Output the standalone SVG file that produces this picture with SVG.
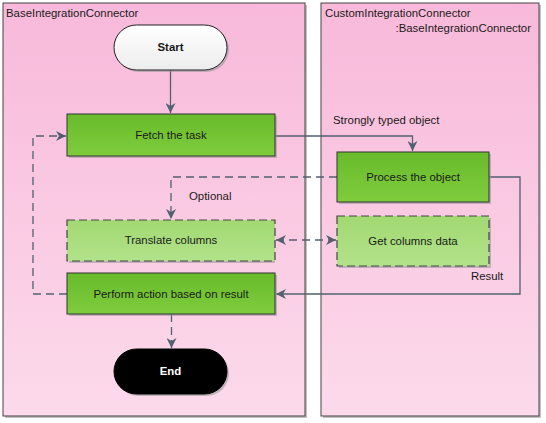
<svg xmlns="http://www.w3.org/2000/svg" width="546" height="423" viewBox="0 0 546 423">
<defs>
<linearGradient id="lane" x1="0" y1="0" x2="0" y2="1"><stop offset="0" stop-color="#f8b9da"/><stop offset="1" stop-color="#fcdaeb"/></linearGradient>
<linearGradient id="green" x1="0" y1="0" x2="0" y2="1"><stop offset="0" stop-color="#68bb2b"/><stop offset="1" stop-color="#7fcc3d"/></linearGradient>
<linearGradient id="lgreen" x1="0" y1="0" x2="0" y2="1"><stop offset="0" stop-color="#a2d972"/><stop offset="1" stop-color="#b2e28a"/></linearGradient>
<linearGradient id="white" x1="0" y1="0" x2="0" y2="1"><stop offset="0" stop-color="#ffffff"/><stop offset="1" stop-color="#ececec"/></linearGradient>
<marker id="arr" viewBox="0 0 10 10" refX="10" refY="5" markerWidth="10" markerHeight="10" markerUnits="userSpaceOnUse" orient="auto-start-reverse"><path d="M0,0 L10,5 L0,10 L3,5 Z" fill="#52606f"/></marker>
</defs>
<style>
.lane{fill:url(#lane);stroke:#444;stroke-width:1}
.shadow{fill:#9a9a9a;opacity:0.6}
.box{fill:url(#green);stroke:#333;stroke-width:1}
.dbox{fill:url(#lgreen);stroke:#444;stroke-width:1.2;stroke-dasharray:8,4}
.t{font-family:"Liberation Sans",Arial,sans-serif;font-size:11.4px;fill:#1a1a1a}
.c{text-anchor:middle}
.b{font-weight:bold}
.line{fill:none;stroke:#52606f;stroke-width:1.3}
.dash{stroke-dasharray:8,5}
</style>
<g id="lane-base">
<rect class="shadow" x="5" y="5" width="302" height="413"/>
<rect class="lane" x="3" y="3" width="302" height="413"/>
<text class="t" x="6" y="17">BaseIntegrationConnector</text>
</g>
<g id="lane-custom">
<rect class="shadow" x="323" y="5" width="218" height="413"/>
<rect class="lane" x="321" y="3" width="218" height="413"/>
<text class="t" x="325" y="17">CustomIntegrationConnector</text>
<text class="t" x="531" y="32" text-anchor="end">:BaseIntegrationConnector</text>
</g>
<g id="connectors">
<path class="line" d="M170.5,70 V113" marker-end="url(#arr)"/>
<path class="line" d="M275,136 H412.5 V151" marker-end="url(#arr)"/>
<path class="line dash" d="M337,177 H171 V219" marker-end="url(#arr)"/>
<path class="line dash" d="M276,240 H336" marker-start="url(#arr)" marker-end="url(#arr)"/>
<path class="line" d="M489,177 H520 V294 H276" marker-end="url(#arr)"/>
<path class="line dash" d="M67,294 H33 V136 H66" marker-end="url(#arr)"/>
<path class="line dash" d="M171.5,314 V348" marker-end="url(#arr)"/>
<text class="t" x="333" y="124">Strongly typed object</text>
<text class="t" x="189" y="200">Optional</text>
<text class="t" x="471" y="280">Result</text>
</g>
<g id="start">
<rect class="shadow" x="116" y="27" width="113" height="45" rx="22.5"/>
<rect x="114" y="25" width="113" height="45" rx="22.5" fill="url(#white)" stroke="#222" stroke-width="1"/>
<text class="t c b" x="170.5" y="51">Start</text>
</g>
<g id="fetch">
<rect class="shadow" x="69" y="116" width="208" height="42"/>
<rect class="box" x="67" y="114" width="208" height="42"/>
<text class="t c" x="171" y="139">Fetch the task</text>
</g>
<g id="process">
<rect class="shadow" x="339" y="154" width="152" height="50"/>
<rect class="box" x="337" y="152" width="152" height="50"/>
<text class="t c" x="413" y="181">Process the object</text>
</g>
<g id="translate">
<rect class="shadow" x="69" y="222" width="206" height="41"/>
<rect class="dbox" x="67" y="220" width="208" height="41"/>
<text class="t c" x="171" y="244">Translate columns</text>
</g>
<g id="getcolumns">
<rect class="shadow" x="339" y="218" width="152" height="50"/>
<rect class="dbox" x="337" y="216" width="152" height="50"/>
<text class="t c" x="413" y="245">Get columns data</text>
</g>
<g id="perform">
<rect class="shadow" x="69" y="275" width="208" height="41"/>
<rect class="box" x="67" y="273" width="208" height="41"/>
<text class="t c" x="171" y="297.5">Perform action based on result</text>
</g>
<g id="end">
<rect class="shadow" x="116" y="351" width="113" height="45" rx="22.5"/>
<rect x="114" y="349" width="113" height="45" rx="22.5" fill="#000" stroke="#000"/>
<text class="t c b" x="170.5" y="375" style="fill:#fff">End</text>
</g>
</svg>
